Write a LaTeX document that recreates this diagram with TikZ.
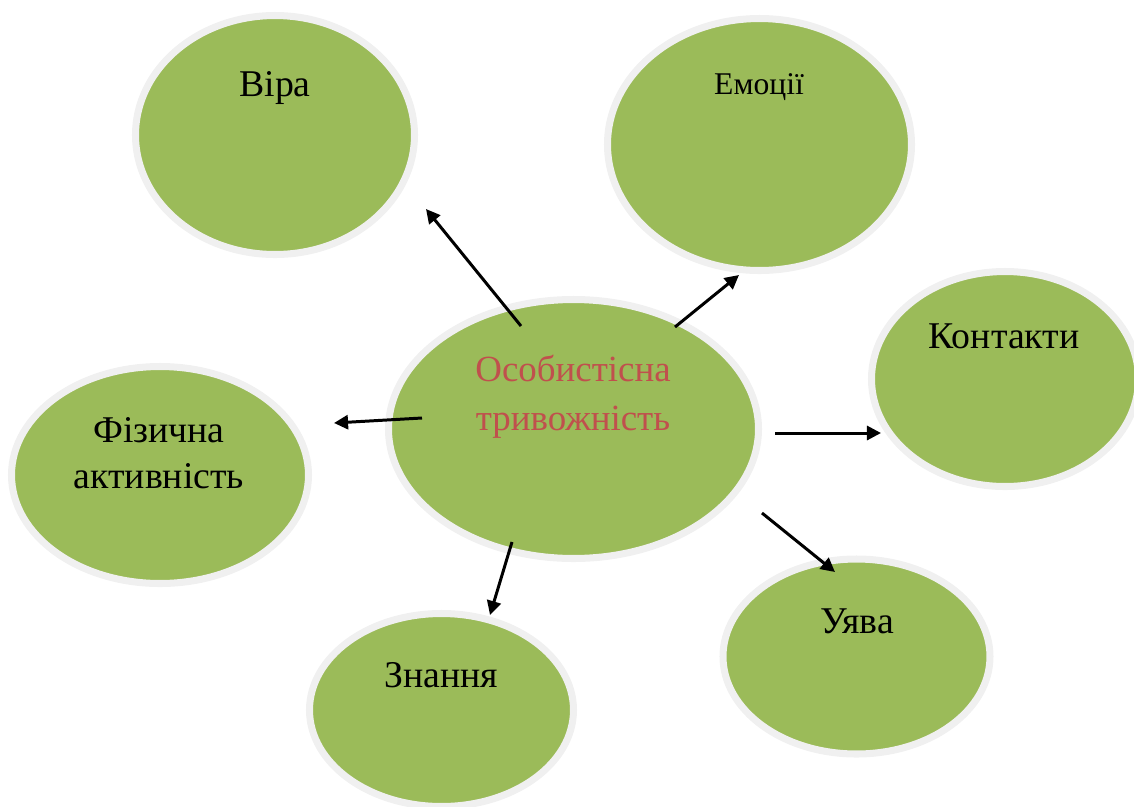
\documentclass[tikz,border=0pt]{standalone}
\usepackage{fontspec}
\setmainfont{Liberation Serif}
\usetikzlibrary{shapes.geometric,arrows.meta}
\definecolor{leaf}{RGB}{155,187,89}
\definecolor{rim}{RGB}{240,240,240}
\definecolor{redtxt}{RGB}{192,80,77}
\tikzset{
  blob/.style 2 args={ellipse, fill=leaf, draw=rim, line width=4pt, inner sep=0pt,
    minimum width={(2*#1+7)*0.02cm}, minimum height={(2*#2+7)*0.02cm}},
  lbl/.style={anchor=base, inner sep=0pt, align=center, font=\fontsize{21.5}{26}\selectfont},
  arr/.style={line width=1.7pt, -{Triangle[length=8pt,width=8pt]}}
}
\begin{document}
\begin{tikzpicture}[x=0.02cm, y=-0.02cm]
\useasboundingbox (0,0) rectangle (1134,806);
% ellipses
\node[blob={136}{116}] (vira) at (275,135) {};
\node[blob={148.5}{122.5}] (emo) at (759.5,144.5) {};
\node[blob={130}{104}] (kont) at (1005,379) {};
\node[blob={181.5}{126}] (osob) at (573.5,429) {};
\node[blob={145}{105}] (fiz) at (160,475) {};
\node[blob={128.5}{93}] (znan) at (441.5,710) {};
\node[blob={130}{94}] (uyava) at (856.5,656.5) {};
% labels (base = last line)
\node[lbl] (tvira) at (275,96) {Віра};
\node[lbl, font=\fontsize{18}{22}\selectfont] (temo) at (759,94) {Емоції};
\node[lbl] (tkont) at (1004,348) {Контакти};
\node[lbl, font=\fontsize{21}{27.8}\selectfont, text=redtxt] (tosob) at (573,430) {Особистісна\\тривожність};
\node[lbl] (tfiz) at (159,488) {Фізична\\активність};
\node[lbl] (tznan) at (441,687) {Знання};
\node[lbl] (tuyava) at (857,633) {Уява};
% connector ends
\coordinate (s1) at (521,326); \coordinate (e1) at (426,209);
\coordinate (s2) at (675,327); \coordinate (e2) at (739,275);
\coordinate (s3) at (775,433); \coordinate (e3) at (881,433);
\coordinate (s4) at (762,513); \coordinate (e4) at (835,572);
\coordinate (s5) at (512,542); \coordinate (e5) at (490,615);
\coordinate (s6) at (422,418); \coordinate (e6) at (334,423);
\draw[arr] (s1) -- (e1);
\draw[arr] (s2) -- (e2);
\draw[arr] (s3) -- (e3);
\draw[arr] (s4) -- (e4);
\draw[arr] (s5) -- (e5);
\draw[arr] (s6) -- (e6);
\end{tikzpicture}
\end{document}
